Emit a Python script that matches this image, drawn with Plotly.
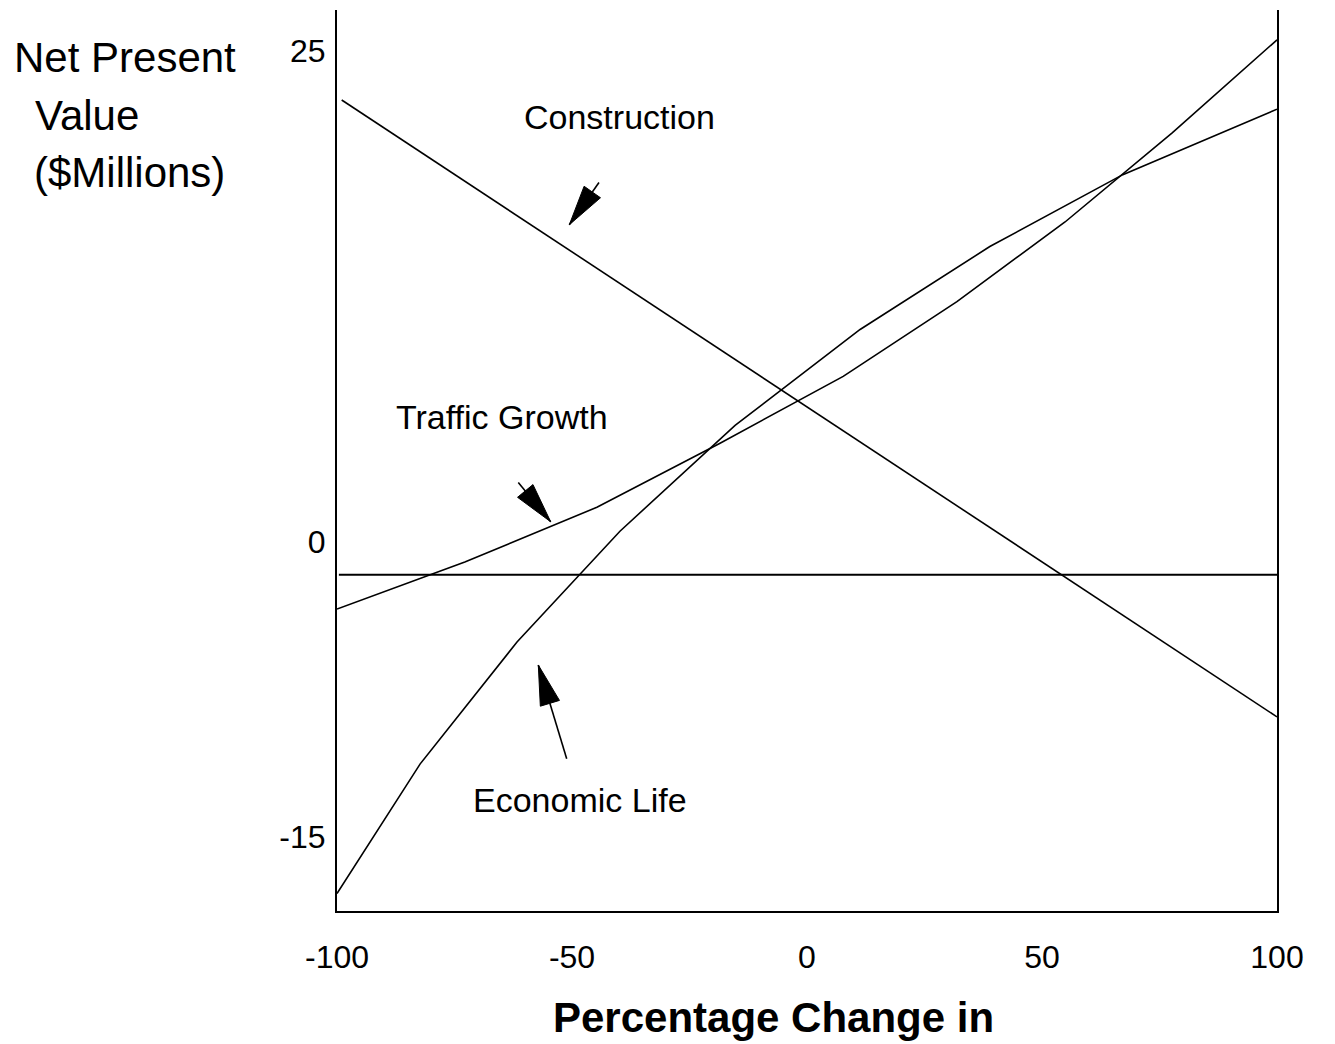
import math

import plotly.graph_objects as go

# sensitivity of NPV ($ millions) to a percentage change in each input
construction_x = [-99, 100]
construction_y = [22.5, -8.9]

traffic_x = [-100, -72.8, -44.7, -18.5, 7.7, 31.9, 54.9, 77.7, 100]
traffic_y = [-3.41, -1.02, 1.77, 5.03, 8.43, 12.24, 16.29, 20.83, 25.56]

life_x = [-100, -82.3, -61.7, -39.8, -15.3, 11.3, 38.9, 67.2, 100]
life_y = [-17.89, -11.29, -5.09, 0.55, 5.94, 10.82, 15.04, 18.70, 22.03]

base_x = [-99.6, 100]
base_y = [-1.67, -1.67]

x_ticks = [-100, -50, 0, 50, 100]
y_ticks = [-15, 0, 25]

# (text, x, y) in data units
line_labels = [
    ("Construction", -39.8, 21.64),
    ("Traffic Growth", -64.8, 6.35),
    ("Economic Life", -48.3, -13.14),
]
# (tail, tip) in data units
label_arrows = [
    ((-44.26, 18.30), (-50.57, 16.15)),
    ((-61.43, 3.03), (-54.53, 1.03)),
    ((-51.13, -11.03), (-57.17, -6.26)),
]

W, H = 1335, 1044
PLOT_L, PLOT_R, PLOT_T, PLOT_B = 337, 1277, 10, 911
X_RANGE = (-100, 100)
Y_RANGE = (-18.78, 27.08)
FONT = "Liberation Sans, Arial, sans-serif"


def to_px(x, y):
    px = PLOT_L + (x - X_RANGE[0]) / (X_RANGE[1] - X_RANGE[0]) * (PLOT_R - PLOT_L)
    py = PLOT_B - (y - Y_RANGE[0]) / (Y_RANGE[1] - Y_RANGE[0]) * (PLOT_B - PLOT_T)
    return px, py


def to_data(px, py):
    x = X_RANGE[0] + (px - PLOT_L) / (PLOT_R - PLOT_L) * (X_RANGE[1] - X_RANGE[0])
    y = Y_RANGE[0] + (PLOT_B - py) / (PLOT_B - PLOT_T) * (Y_RANGE[1] - Y_RANGE[0])
    return x, y


def paper_x(px):
    return (px - PLOT_L) / (PLOT_R - PLOT_L)


def paper_y(py):
    return (PLOT_B - py) / (PLOT_B - PLOT_T)


def head_path(tail, tip, length=40, width=20):
    tx, ty = to_px(*tail)
    hx, hy = to_px(*tip)
    dx, dy = hx - tx, hy - ty
    n = math.hypot(dx, dy)
    dx, dy = dx / n, dy / n
    bx, by = hx - dx * length, hy - dy * length
    c1 = to_data(bx - dy * width / 2, by + dx * width / 2)
    c2 = to_data(bx + dy * width / 2, by - dx * width / 2)
    return f"M {tip[0]},{tip[1]} L {c1[0]},{c1[1]} L {c2[0]},{c2[1]} Z"


fig = go.Figure()

for xs, ys, width in [
    (base_x, base_y, 2),
    (construction_x, construction_y, 1.6),
    (traffic_x, traffic_y, 1.6),
    (life_x, life_y, 1.6),
]:
    fig.add_trace(
        go.Scatter(
            x=xs,
            y=ys,
            mode="lines",
            line=dict(color="black", width=width),
            showlegend=False,
            hoverinfo="skip",
        )
    )

for text, x, y in line_labels:
    fig.add_annotation(
        x=x, y=y, text=text, showarrow=False,
        font=dict(family=FONT, size=34, color="black"),
    )

for tail, tip in label_arrows:
    fig.add_shape(
        type="line", x0=tail[0], y0=tail[1], x1=tip[0], y1=tip[1],
        line=dict(color="black", width=1.6),
    )
    fig.add_shape(
        type="path", path=head_path(tail, tip),
        fillcolor="black", line=dict(color="black", width=1),
    )

# y-axis title, one line per annotation as in the original
for text, left, cy in [("Net Present", 12, 57), ("Value", 33, 115), ("($Millions)", 32, 173)]:
    fig.add_annotation(
        xref="paper", yref="paper", x=paper_x(left), y=paper_y(cy),
        xanchor="left", yanchor="middle", text=text, showarrow=False,
        font=dict(family=FONT, size=42, color="black"),
    )

fig.add_annotation(
    xref="paper", yref="paper", x=paper_x(773), y=paper_y(1017),
    xanchor="center", yanchor="middle", text="<b>Percentage Change in</b>",
    showarrow=False, font=dict(family=FONT, size=42, color="black"),
)

fig.update_layout(
    width=W,
    height=H,
    margin=dict(l=PLOT_L, r=W - PLOT_R, t=PLOT_T, b=H - PLOT_B),
    paper_bgcolor="white",
    plot_bgcolor="white",
    font=dict(family=FONT, size=32, color="black"),
    showlegend=False,
)
fig.update_xaxes(
    range=list(X_RANGE),
    tickvals=x_ticks,
    ticktext=[str(v) for v in x_ticks],
    ticks="",
    ticklabelstandoff=17,
    showgrid=False,
    zeroline=False,
    showline=True,
    linecolor="black",
    linewidth=2,
    tickfont=dict(size=32),
)
fig.update_yaxes(
    range=list(Y_RANGE),
    tickvals=y_ticks,
    ticktext=[str(v) for v in y_ticks],
    ticks="",
    ticklabelstandoff=3,
    showgrid=False,
    zeroline=False,
    showline=True,
    mirror=True,
    linecolor="black",
    linewidth=2,
    tickfont=dict(size=32),
)

fig.write_html(
    "out.html",
    config={"displayModeBar": False},
    post_script="document.body.style.margin='0';document.body.style.overflow='hidden';",
)
